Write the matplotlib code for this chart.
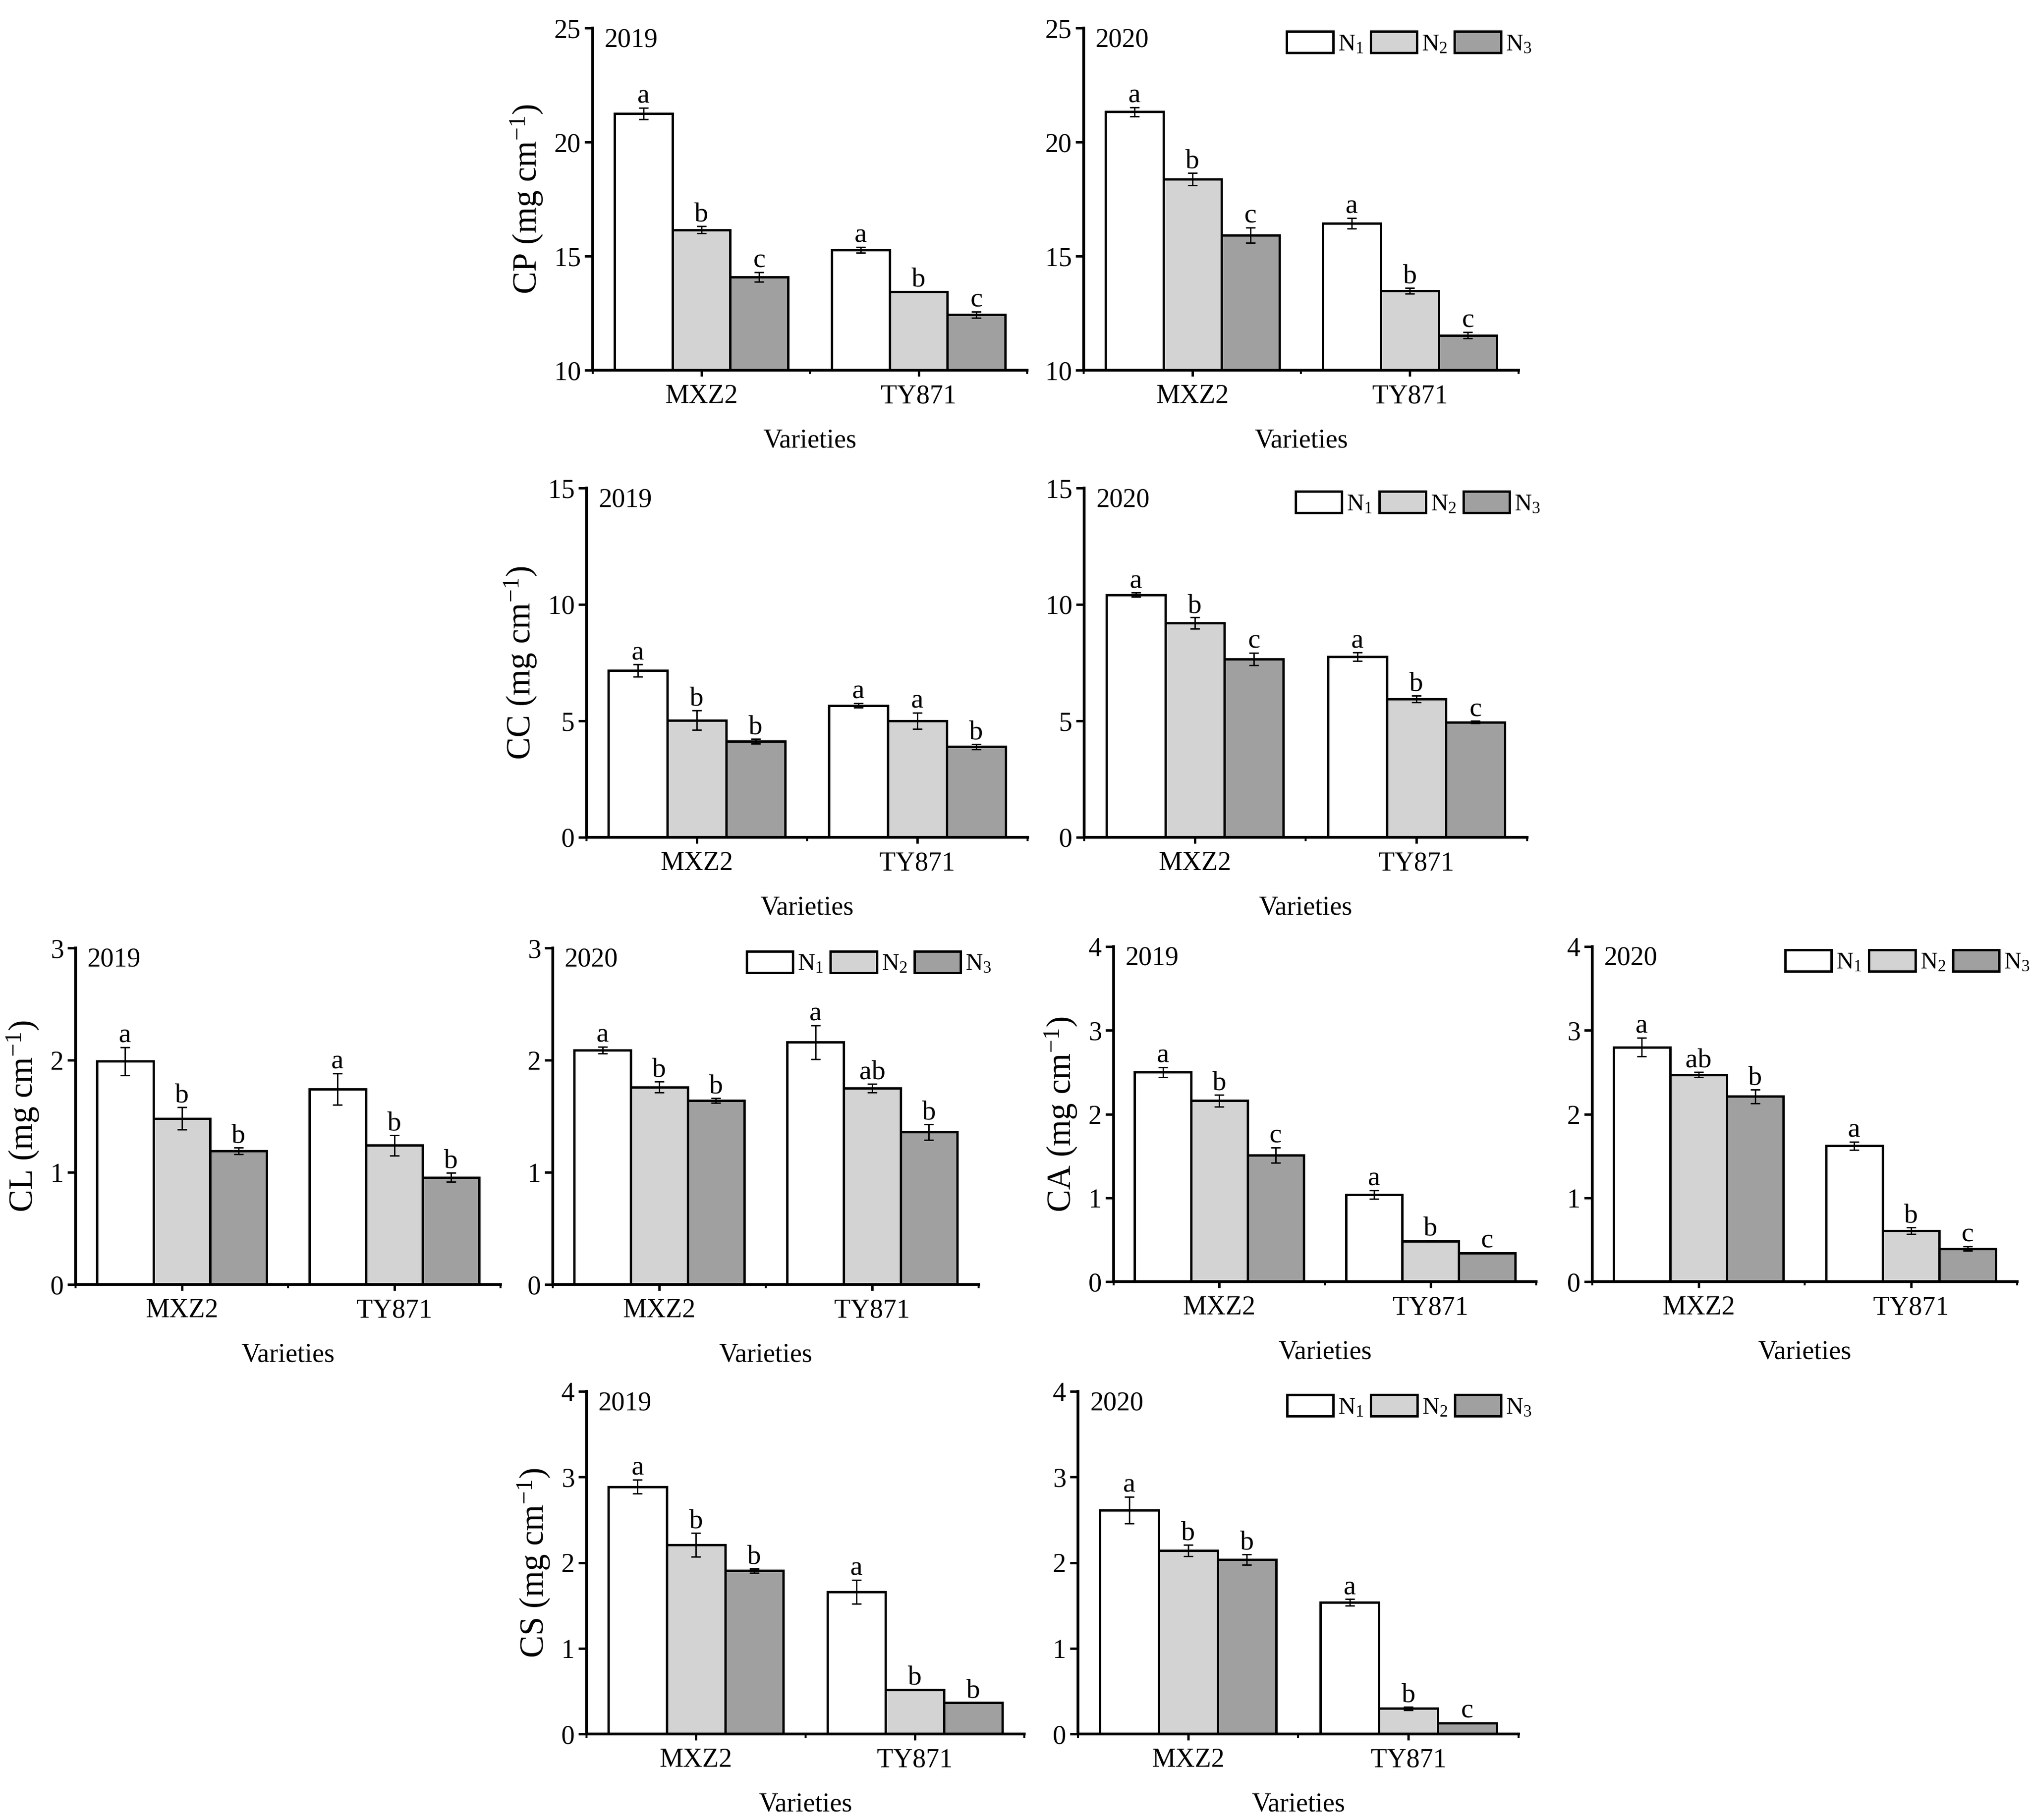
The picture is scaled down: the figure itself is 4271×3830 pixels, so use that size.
import numpy as np
import matplotlib
matplotlib.use('Agg')
import matplotlib.pyplot as plt

plt.rcParams['font.family'] = ['Liberation Serif', 'DejaVu Serif']
plt.rcParams['mathtext.default'] = 'regular'

W, H = 4271, 3830

varieties = ['MXZ2', 'TY871']
treatments = ['N$_1$', 'N$_2$', 'N$_3$']
bar_colors = ['#ffffff', '#d3d3d3', '#a0a0a0']

# rows = varieties, columns = N1, N2, N3
cp_2019_mean = [[21.26, 16.15, 14.09], [15.27, 13.44, 12.43]]
cp_2019_err = [[0.25, 0.16, 0.21], [0.13, 0.02, 0.13]]
cp_2019_sig = [['a', 'b', 'c'], ['a', 'b', 'c']]
cp_2020_mean = [[21.33, 18.37, 15.92], [16.43, 13.48, 11.53]]
cp_2020_err = [[0.20, 0.27, 0.34], [0.23, 0.13, 0.14]]
cp_2020_sig = [['a', 'b', 'c'], ['a', 'b', 'c']]

cc_2019_mean = [[7.16, 5.03, 4.13], [5.66, 5.00, 3.89]]
cc_2019_err = [[0.26, 0.42, 0.10], [0.09, 0.35, 0.11]]
cc_2019_sig = [['a', 'b', 'b'], ['a', 'a', 'b']]
cc_2020_mean = [[10.41, 9.20, 7.65], [7.75, 5.94, 4.94]]
cc_2020_err = [[0.09, 0.24, 0.27], [0.18, 0.14, 0.05]]
cc_2020_sig = [['a', 'b', 'c'], ['a', 'b', 'c']]

cl_2019_mean = [[1.99, 1.48, 1.19], [1.74, 1.24, 0.955]]
cl_2019_err = [[0.125, 0.10, 0.03], [0.14, 0.09, 0.04]]
cl_2019_sig = [['a', 'b', 'b'], ['a', 'b', 'b']]
cl_2020_mean = [[2.09, 1.76, 1.64], [2.16, 1.75, 1.36]]
cl_2020_err = [[0.03, 0.05, 0.02], [0.15, 0.04, 0.07]]
cl_2020_sig = [['a', 'b', 'b'], ['a', 'ab', 'b']]

ca_2019_mean = [[2.50, 2.16, 1.51], [1.04, 0.485, 0.34]]
ca_2019_err = [[0.06, 0.07, 0.09], [0.05, 0.01, 0.005]]
ca_2019_sig = [['a', 'b', 'c'], ['a', 'b', 'c']]
ca_2020_mean = [[2.80, 2.47, 2.21], [1.62, 0.607, 0.394]]
ca_2020_err = [[0.11, 0.03, 0.08], [0.05, 0.04, 0.024]]
ca_2020_sig = [['a', 'ab', 'b'], ['a', 'b', 'c']]

cs_2019_mean = [[2.886, 2.207, 1.908], [1.66, 0.516, 0.367]]
cs_2019_err = [[0.08, 0.14, 0.025], [0.14, 0.005, 0.0]]
cs_2019_sig = [['a', 'b', 'b'], ['a', 'b', 'b']]
cs_2020_mean = [[2.614, 2.142, 2.037], [1.536, 0.298, 0.129]]
cs_2020_err = [[0.156, 0.068, 0.06], [0.037, 0.02, 0.005]]
cs_2020_sig = [['a', 'b', 'b'], ['a', 'b', 'c']]


def px_rect(left, right, top, bottom):
    """Convert pixel box to figure fraction rect"""
    return [left / W, 1 - bottom / H, (right - left) / W, (bottom - top) / H]


def draw_panel(fig, rect, mean, err, sig, year, ylabel, ylim, ystep, legend=False):
    ax = fig.add_axes(rect)
    mean = np.array(mean)
    err = np.array(err)
    x = np.arange(1, len(varieties) + 1)
    width = 0.8 / 3

    for j in range(3):
        xpos = x + (j - 1) * width
        ax.bar(xpos, mean[:, j], width, color=bar_colors[j], edgecolor='black',
               linewidth=1.2, label=treatments[j], zorder=2)
        ax.errorbar(xpos, mean[:, j], yerr=err[:, j], fmt='none', ecolor='black',
                    elinewidth=0.7, capsize=2.3, capthick=0.7, zorder=3)
        for i in range(len(varieties)):
            ax.annotate(sig[i][j], (xpos[i], mean[i, j] + err[i, j]),
                        xytext=(0, 2.5), textcoords='offset points',
                        ha='center', va='baseline', fontsize=14)

    ax.set_xlim(0.5, 2.5)
    ax.set_ylim(*ylim)
    ax.set_yticks(np.arange(ylim[0], ylim[1] + 0.01, ystep))
    ax.set_xticks(x)
    ax.set_xticklabels(varieties)
    ax.set_xticks([0.5, 1.5, 2.5], minor=True)

    for side in ['top', 'right']:
        ax.spines[side].set_visible(False)
    for side in ['left', 'bottom']:
        ax.spines[side].set_linewidth(1.4)

    ax.tick_params(axis='y', direction='out', length=4, width=1.2, pad=2, labelsize=13.5)
    ax.tick_params(axis='x', which='major', direction='out', length=3, width=1.2,
                   pad=4, labelsize=13.5)
    ax.tick_params(axis='x', which='minor', direction='out', length=2, width=1.0)

    ax.set_xlabel('Varieties', fontsize=13.5, labelpad=10)
    ax.set_ylabel(ylabel, fontsize=17, labelpad=5)
    ax.text(0.027, 0.965, year, transform=ax.transAxes, ha='left', va='center',
            fontsize=13.5)

    if legend:
        ax.legend(loc='upper right', bbox_to_anchor=(1.03, 0.99), ncol=3,
                  frameon=False, fontsize=12, handlelength=1.95, handleheight=1.0,
                  handletextpad=0.2, columnspacing=0.3, borderaxespad=0,
                  borderpad=0)
    return ax


fig = plt.figure(figsize=(W / 300, H / 300), dpi=300)

draw_panel(fig, px_rect(1247, 2161, 59, 779), cp_2019_mean, cp_2019_err, cp_2019_sig,
           '2019', 'CP (mg cm$^{-1}$)', (10, 25), 5)
draw_panel(fig, px_rect(2280, 3195, 59, 779), cp_2020_mean, cp_2020_err, cp_2020_sig,
           '2020', '', (10, 25), 5, legend=True)

draw_panel(fig, px_rect(1234, 2162, 1027, 1762), cc_2019_mean, cc_2019_err, cc_2019_sig,
           '2019', 'CC (mg cm$^{-1}$)', (0, 15), 5)
draw_panel(fig, px_rect(2281, 3213, 1027, 1762), cc_2020_mean, cc_2020_err, cc_2020_sig,
           '2020', '', (0, 15), 5, legend=True)

draw_panel(fig, px_rect(159, 1053, 1995, 2703), cl_2019_mean, cl_2019_err, cl_2019_sig,
           '2019', 'CL (mg cm$^{-1}$)', (0, 3), 1)
draw_panel(fig, px_rect(1163, 2059, 1995, 2703), cl_2020_mean, cl_2020_err, cl_2020_sig,
           '2020', '', (0, 3), 1, legend=True)
draw_panel(fig, px_rect(2343, 3232, 1992, 2697), ca_2019_mean, ca_2019_err, ca_2019_sig,
           '2019', 'CA (mg cm$^{-1}$)', (0, 4), 1)
draw_panel(fig, px_rect(3350, 4244, 1992, 2697), ca_2020_mean, ca_2020_err, ca_2020_sig,
           '2020', '', (0, 4), 1, legend=True)

draw_panel(fig, px_rect(1234, 2155, 2928, 3649), cs_2019_mean, cs_2019_err, cs_2019_sig,
           '2019', 'CS (mg cm$^{-1}$)', (0, 4), 1)
draw_panel(fig, px_rect(2268, 3195, 2928, 3649), cs_2020_mean, cs_2020_err, cs_2020_sig,
           '2020', '', (0, 4), 1, legend=True)

fig.savefig('out.png', dpi=300)
